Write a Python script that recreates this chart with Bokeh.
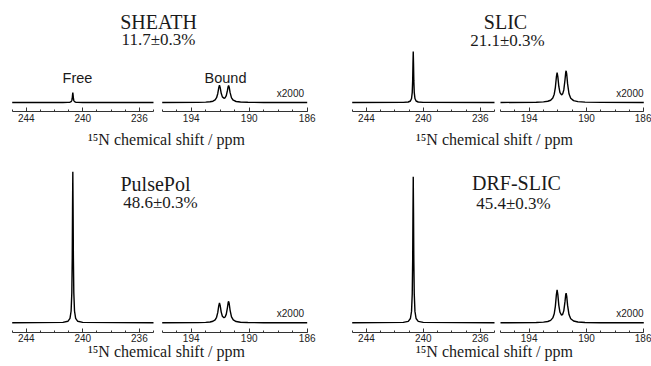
from bokeh.plotting import figure
from bokeh.models import Range1d, LinearAxis, FixedTicker, Label
from bokeh.layouts import column, row
from bokeh.embed import file_html
from bokeh.resources import INLINE

# ---------------- data ----------------
methods = ["SHEATH", "SLIC", "PulsePol", "DRF-SLIC"]
enhancements = ["11.7±0.3%", "21.1±0.3%", "48.6±0.3%", "45.4±0.3%"]
axis_title = "¹⁵N chemical shift / ppm"
scale_label = "x2000"
region_labels = ["Free", "Bound"]

free_ticks = [244, 240, 236]
free_minor = [235, 236, 237, 238, 239, 240, 241, 242, 243, 244, 245]
bound_ticks = [194, 190, 186]
bound_minor = [186, 187, 188, 189, 190, 191, 192, 193, 194, 195, 196]

# free-ligand region (ppm) and intensities (arb. units)
free_ppm = [245.0, 241.41, 241.06, 240.91, 240.83, 240.78, 240.75, 240.73, 240.71,
            240.69, 240.67, 240.64, 240.59, 240.51, 240.36, 240.01, 235.0]
sheath_free = [0, 0.03, 0.1, 0.3, 0.8, 2.0, 4.3, 7.5, 10, 7.5, 4.3, 2.0, 0.8, 0.3, 0.1, 0.03, 0]
slic_free = [0, 0.13, 0.5, 1.5, 4.0, 10.2, 22.1, 38.5, 51, 38.5, 22.1, 10.2, 4.0, 1.5, 0.5, 0.13, 0]
pulsepol_free = [0, 0.4, 1.5, 4.5, 11.8, 30.2, 65.5, 113.9, 151, 113.9, 65.5, 30.2, 11.8, 4.5, 1.5, 0.4, 0]
drfslic_free = [0, 0.4, 1.4, 4.3, 11.4, 29.2, 63.4, 110.1, 146, 110.1, 63.4, 29.2, 11.4, 4.3, 1.4, 0.4, 0]

# bound region (ppm), shown x2000
bound_ppm = [196.0, 193.5, 193.0, 192.7, 192.5, 192.35, 192.25, 192.17, 192.1, 192.05, 192.0,
             191.93, 191.85, 191.74, 191.66, 191.58, 191.5, 191.45, 191.42, 191.38, 191.32,
             191.22, 191.1, 190.9, 190.6, 190.1, 189.0, 186.0]
sheath_bound = [0, 0.17, 0.36, 0.69, 1.30, 2.57, 4.77, 8.76, 14.72, 17.27, 14.90, 9.20, 5.61,
                4.19, 4.73, 6.92, 12.10, 16.06, 16.98, 15.28, 10.11, 4.69, 2.28, 1.00, 0.45,
                0.19, 0.07, 0]
slic_bound = [0, 0.30, 0.63, 1.22, 2.28, 4.49, 8.29, 15.22, 25.54, 29.97, 25.88, 16.05, 9.87,
              7.54, 8.65, 12.81, 22.54, 29.99, 31.71, 28.53, 18.86, 8.73, 4.23, 1.85, 0.84,
              0.36, 0.12, 0]
pulsepol_bound = [0, 0.20, 0.42, 0.81, 1.52, 2.99, 5.52, 10.12, 16.98, 19.93, 17.21, 10.68,
                  6.59, 5.06, 5.83, 8.66, 15.25, 20.30, 21.47, 19.32, 12.77, 5.90, 2.86, 1.25,
                  0.57, 0.24, 0.08, 0]
drfslic_bound = [0, 0.31, 0.66, 1.30, 2.46, 4.89, 9.06, 16.71, 28.12, 33.00, 28.43, 17.48,
                 10.53, 7.67, 8.48, 12.21, 21.16, 28.04, 29.62, 26.64, 17.65, 8.21, 4.01,
                 1.77, 0.82, 0.36, 0.12, 0]

free_series = [sheath_free, slic_free, pulsepol_free, drfslic_free]
bound_series = [sheath_bound, slic_bound, pulsepol_bound, drfslic_bound]

# ---------------- layout (page pixel positions) ----------------
INK = "#1a1a1a"
SERIF = "Liberation Serif"
SANS = "Liberation Sans"

panels = [
    dict(x0=0, w=328, y0=0, h=158, base=102.0, axy=111.0, lpx=(11.7, 153.0), rpx=(161.7, 306.7),
         title=(158, 21), pct=(158, 39), xl=(166, 139), sc=303.5),
    dict(x0=328, w=323, y0=0, h=158, base=102.0, axy=111.0, lpx=(351.7, 494.0), rpx=(500.0, 643.3),
         title=(505, 21), pct=(507, 40), xl=(494, 139), sc=643.0),
    dict(x0=0, w=328, y0=158, h=208, base=322.3, axy=331.7, lpx=(11.7, 153.0), rpx=(161.7, 306.7),
         title=(155, 183), pct=(160, 202), xl=(166, 350.5), sc=303.5),
    dict(x0=328, w=323, y0=158, h=208, base=322.3, axy=331.7, lpx=(351.7, 494.0), rpx=(500.0, 643.3),
         title=(516, 182), pct=(513, 202.5), xl=(494, 351), sc=643.0),
]


def sub_range(x0, w, px, vals):
    a, b = px
    va, vb = vals
    s = (va - vb) / (b - a)
    return Range1d(start=va + (a - x0) * s, end=va - (x0 + w - a) * s), s


def make_panel(i):
    c = panels[i]
    x0, w, y0, h = c["x0"], c["w"], c["y0"], c["h"]
    ytop = c["base"] - y0          # 1 data unit = 1 px vertically, baseline at 0
    xr, sl = sub_range(x0, w, c["lpx"], (245, 235))
    xr_b, sb = sub_range(x0, w, c["rpx"], (196, 186))

    p = figure(width=w, height=h, output_backend="svg", toolbar_location=None,
               x_range=xr, y_range=Range1d(ytop - h, ytop),
               x_axis_type=None, y_axis_type=None, min_border=0,
               outline_line_color=None, background_fill_color="white",
               border_fill_color="white")
    p.extra_x_ranges = {"bound": xr_b}

    def xd(px):
        return xr.start - (px - x0) * sl

    def xbd(px):
        return xr_b.start - (px - x0) * sb

    def yd(py):
        return ytop - (py - y0)

    p.line(free_ppm, free_series[i], line_color="black", line_width=1.4)
    p.line(bound_ppm, bound_series[i], line_color="black", line_width=1.4, x_range_name="bound")

    yax = yd(c["axy"])
    for name, ticks, minor, bnds in [("default", free_ticks, free_minor, (235, 245)),
                                     ("bound", bound_ticks, bound_minor, (186, 196))]:
        ax = LinearAxis(x_range_name=name, fixed_location=yax, bounds=bnds,
                        ticker=FixedTicker(ticks=ticks, minor_ticks=minor))
        ax.axis_line_color = "#333333"
        ax.axis_line_width = 1
        ax.major_tick_line_color = "#333333"
        ax.minor_tick_line_color = "#333333"
        ax.major_tick_in = 4
        ax.major_tick_out = 0
        ax.minor_tick_in = 2
        ax.minor_tick_out = 0
        ax.major_label_standoff = 2
        ax.major_label_text_font = SANS
        ax.major_label_text_font_size = "10px"
        ax.major_label_text_color = "#222222"
        p.add_layout(ax, "below")

    tx, ty = c["title"]
    p.add_layout(Label(x=xd(tx), y=yd(ty), text=methods[i], text_font=SERIF,
                       text_font_size="20px", text_align="center", text_baseline="middle",
                       text_color=INK))
    px_, py_ = c["pct"]
    p.add_layout(Label(x=xd(px_), y=yd(py_), text=enhancements[i], text_font=SERIF,
                       text_font_size="17px", text_align="center", text_baseline="middle",
                       text_color=INK))
    lx, ly = c["xl"]
    p.add_layout(Label(x=xd(lx), y=yd(ly), text=axis_title, text_font=SERIF,
                       text_font_size="16px", text_align="center", text_baseline="middle",
                       text_color=INK))
    p.add_layout(Label(x=xbd(c["sc"]), y=yd(c["base"] - 9), text=scale_label, text_font=SANS,
                       text_font_size="10px", text_align="right", text_baseline="middle",
                       text_color=INK, x_range_name="bound"))
    if i == 0:
        p.add_layout(Label(x=xd(77), y=yd(77), text=region_labels[0], text_font=SANS,
                           text_font_size="14.5px", text_align="center",
                           text_baseline="middle", text_color=INK))
        p.add_layout(Label(x=xbd(225), y=yd(77), text=region_labels[1], text_font=SANS,
                           text_font_size="14.5px", text_align="center",
                           text_baseline="middle", text_color=INK, x_range_name="bound"))
    return p


figs = [make_panel(i) for i in range(4)]
layout = column(row(figs[0], figs[1]), row(figs[2], figs[3]))

open("out.html", "w").write(file_html(layout, INLINE))
